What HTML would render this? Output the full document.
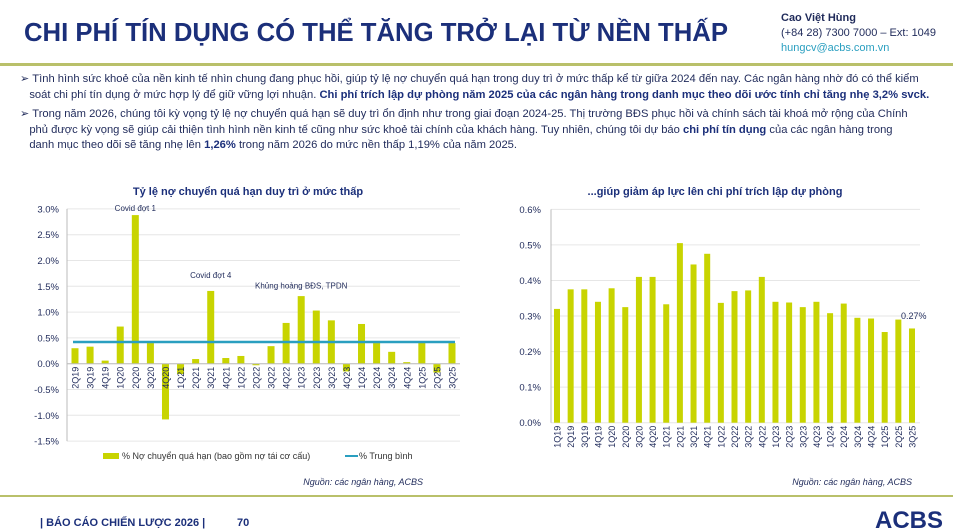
<!DOCTYPE html>
<html><head><meta charset="utf-8">
<style>
body{margin:0;width:953px;height:531px;background:#fff;font-family:"Liberation Sans",sans-serif;position:relative;overflow:hidden;color:#1f2a5a}
.abs{position:absolute}
h1{position:absolute;left:24px;top:19px;margin:0;font-size:25.7px;font-weight:bold;color:#1b2f7a;letter-spacing:0px;white-space:nowrap}
.contact{left:781px;top:11px;font-size:11px;line-height:15px;color:#1f2a5a}
.txt{left:20px;font-size:11.2px;line-height:15.5px;color:#1f2a5a;width:940px;letter-spacing:0px;white-space:nowrap}
.txt b{color:#1b2f7a}
svg text{font-family:"Liberation Sans",sans-serif}
</style></head><body>
<h1>CHI PHÍ TÍN DỤNG CÓ THỂ TĂNG TRỞ LẠI TỪ NỀN THẤP</h1>
<div class="abs contact"><b>Cao Việt Hùng</b><br>(+84 28) 7300 7000 – Ext: 1049<br><span style="color:#2a9fc0">hungcv@acbs.com.vn</span></div>
<div class="abs" style="left:0;top:63px;width:953px;height:3px;background:#b9c06a"></div>
<div class="abs txt" style="top:72px">➢ Tình hình sức khoẻ của nền kinh tế nhìn chung đang phục hồi, giúp tỷ lệ nợ chuyển quá hạn trong duy trì ở mức thấp kể từ giữa 2024 đến nay. Các ngân hàng nhờ đó có thể kiểm<br>&nbsp;&nbsp;&nbsp;soát chi phí tín dụng ở mức hợp lý để giữ vững lợi nhuận. <b>Chi phí trích lập dự phòng năm 2025 của các ngân hàng trong danh mục theo dõi ước tính chỉ tăng nhẹ 3,2% svck.</b></div>
<div class="abs txt" style="top:107px">➢ Trong năm 2026, chúng tôi kỳ vọng tỷ lệ nợ chuyển quá hạn sẽ duy trì ổn định như trong giai đoạn 2024-25. Thị trường BĐS phục hồi và chính sách tài khoá mở rộng của Chính<br>&nbsp;&nbsp;&nbsp;phủ được kỳ vọng sẽ giúp cải thiện tình hình nền kinh tế cũng như sức khoẻ tài chính của khách hàng. Tuy nhiên, chúng tôi dự báo <b>chi phí tín dụng</b> của các ngân hàng trong<br>&nbsp;&nbsp;&nbsp;danh mục theo dõi sẽ tăng nhẹ lên <b>1,26%</b> trong năm 2026 do mức nền thấp 1,19% của năm 2025.</div>

<svg class="abs" style="left:0;top:0" width="953" height="531" id="charts">
<text x="248" y="195" text-anchor="middle" font-size="11" font-weight="bold" fill="#1b2f7a">Tỷ lệ nợ chuyển quá hạn duy trì ở mức thấp</text>
<text x="715" y="195" text-anchor="middle" font-size="11" font-weight="bold" fill="#1b2f7a">...giúp giảm áp lực lên chi phí trích lập dự phòng</text>
<g id="left"></g><g id="right"></g>
<rect x="103" y="453" width="16" height="6" fill="#c8d400"/>
<text x="122" y="459" font-size="9" fill="#333">% Nợ chuyển quá hạn (bao gồm nợ tái cơ cấu)</text>
<rect x="345" y="455" width="13" height="2" fill="#2a9fc0"/>
<text x="359" y="459" font-size="9" fill="#333">% Trung bình</text>
<text x="423" y="485" text-anchor="end" font-size="9" font-style="italic" fill="#1f2a5a">Nguồn: các ngân hàng, ACBS</text>
<text x="912" y="485" text-anchor="end" font-size="9" font-style="italic" fill="#1f2a5a">Nguồn: các ngân hàng, ACBS</text>
<rect x="0" y="495" width="953" height="2" fill="#b9c06a"/>
<text x="40" y="526" font-size="11" font-weight="bold" fill="#1b2f7a">| BÁO CÁO CHIẾN LƯỢC 2026 |</text>
<text x="237" y="526" font-size="11" font-weight="bold" fill="#1b2f7a">70</text>
<text x="943" y="528" text-anchor="end" font-size="24" font-weight="bold" fill="#1b2f7a">ACBS</text>
</svg>
<script>
const leftCats=["2Q19","3Q19","4Q19","1Q20","2Q20","3Q20","4Q20","1Q21","2Q21","3Q21","4Q21","1Q22","2Q22","3Q22","4Q22","1Q23","2Q23","3Q23","4Q23","1Q24","2Q24","3Q24","4Q24","1Q25","2Q25","3Q25"];
const leftVals=[0.30,0.33,0.06,0.72,2.88,0.40,-1.08,-0.20,0.09,1.41,0.11,0.15,-0.03,0.34,0.79,1.31,1.03,0.84,-0.15,0.77,0.40,0.23,0.03,0.42,-0.17,0.40];
const leftAvg=0.42;
const leftTicks=[3.0,2.5,2.0,1.5,1.0,0.5,0.0,-0.5,-1.0,-1.5];
const leftNotes=[["Covid đợt 1",4,3.0],["Covid đợt 4",9,1.7],["Khủng hoảng BĐS, TPDN",15,1.5]];
const rightCats=["1Q19","2Q19","3Q19","4Q19","1Q20","2Q20","3Q20","4Q20","1Q21","2Q21","3Q21","4Q21","1Q22","2Q22","3Q22","4Q22","1Q23","2Q23","3Q23","4Q23","1Q24","2Q24","3Q24","4Q24","1Q25","2Q25","3Q25"];
const rightVals=[0.32,0.375,0.375,0.34,0.378,0.325,0.41,0.41,0.333,0.505,0.445,0.475,0.337,0.37,0.372,0.41,0.34,0.338,0.325,0.34,0.308,0.335,0.295,0.293,0.255,0.29,0.265];
const rightTicks=[0.6,0.5,0.4,0.3,0.2,0.1,0.0];
const NS="http://www.w3.org/2000/svg";
function mk(p,t,a){const e=document.createElementNS(NS,t);for(const k in a)e.setAttribute(k,a[k]);p.appendChild(e);return e;}
(function(){
const g=document.getElementById('left');
const y=v=>363.7-v*51.6;
const x0=67,x1=460,c0=75,step=(452-75)/(leftCats.length-1);
const x=i=>c0+i*step;
leftTicks.forEach(t=>{
 const gl=mk(g,'line',{x1:x0,x2:x1,y1:y(t),y2:y(t),stroke:'#e6e6e6','stroke-width':1});
 
 const tx=mk(g,'text',{x:59,y:y(t)+3.5,'text-anchor':'end','font-size':9.5,fill:'#1f2a5a'});
 tx.textContent=t.toFixed(1)+'%';
 
});
const ax=mk(g,'line',{x1:x0,x2:x0,y1:y(3),y2:y(-1.5),stroke:'#bbb'});

leftVals.forEach((v,i)=>{
 const r=mk(g,'rect',{x:x(i)-3.5,y:Math.min(y(v),y(0)),width:7,height:Math.abs(y(v)-y(0)),fill:'#c8d400'});
 
});
const zl=mk(g,'line',{x1:x0,x2:x1,y1:y(0),y2:y(0),stroke:'#bbb'});

const al=mk(g,'line',{x1:x(0)-2,x2:x(leftCats.length-1)+3,y1:y(leftAvg),y2:y(leftAvg),stroke:'#2a9fc0','stroke-width':2.5});

leftCats.forEach((c,i)=>{
 const tx=mk(g,'text',{transform:`translate(${x(i)+3.5},${y(0)+3}) rotate(-90)`,'text-anchor':'end','font-size':9,fill:'#1f2a5a'});
 tx.textContent=c;
 
});
leftNotes.forEach(n=>{
 const tx=mk(g,'text',{x:x(n[1]),y:y(n[2])+2,'text-anchor':'middle','font-size':8,fill:'#1f2a5a'});
 tx.textContent=n[0];
 
});
})();
(function(){
const g=document.getElementById('right');
const y=v=>422.7-v*355.6;
const x0=551,x1=920,c0=557,step=(912-557)/(rightCats.length-1);
const x=i=>c0+i*step;
rightTicks.forEach(t=>{
 const gl=mk(g,'line',{x1:x0,x2:x1,y1:y(t),y2:y(t),stroke:'#e6e6e6'});
 
 const tx=mk(g,'text',{x:541,y:y(t)+3.5,'text-anchor':'end','font-size':9.5,fill:'#1f2a5a'});
 tx.textContent=t.toFixed(1)+'%';
 
});
const ax=mk(g,'line',{x1:x0,x2:x0,y1:y(0.6),y2:y(0),stroke:'#bbb'});

rightVals.forEach((v,i)=>{
 const r=mk(g,'rect',{x:x(i)-3,y:y(v),width:6,height:y(0)-y(v),fill:'#c8d400'});
 
});
rightCats.forEach((c,i)=>{
 const tx=mk(g,'text',{transform:`translate(${x(i)+3.5},${y(0)+3}) rotate(-90)`,'text-anchor':'end','font-size':9,fill:'#1f2a5a'});
 tx.textContent=c;
 
});
const last=rightVals.length-1;
const lb=mk(g,'text',{x:x(last)-11,y:y(0.3)+3,'font-size':9,fill:'#1f2a5a'});
lb.textContent='0.27%';

})();
</script>
</body></html>
